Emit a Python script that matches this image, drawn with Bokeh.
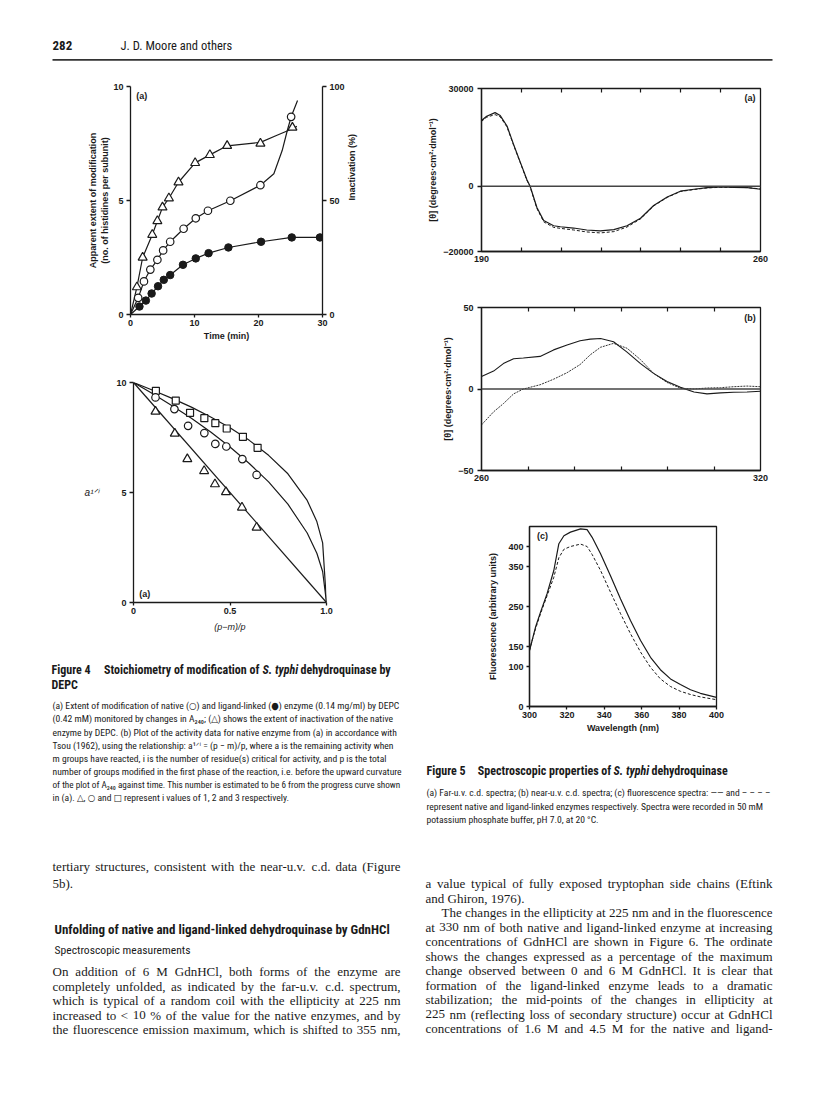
import math
from bokeh.plotting import figure
from bokeh.models import Range1d, LinearAxis, FixedTicker, Label, Span
from bokeh.layouts import column, row
from bokeh.embed import file_html
from bokeh.resources import INLINE
from bokeh.core.properties import value

SANS = "Liberation Sans"
NARROW = "'Roboto Condensed', 'DejaVu Sans Condensed', 'Liberation Sans Narrow', 'Liberation Sans'"
SERIF = "Liberation Serif"
INK = "#1a1a1a"

# ---------------- Figure 4(a): modification vs time ----------------
t_tri = [1.0, 1.9, 3.4, 4.2, 5.0, 6.0, 7.5, 10.1, 12.4, 15.1, 20.3, 25.3]
inact_tri = [12, 25, 35, 41, 47, 51, 58, 66.5, 70, 74, 75, 82]
tri_curve_t = [0, 1.0, 1.9, 3.4, 4.2, 5.0, 6.0, 7.5, 10.1, 12.4, 15.1, 20.3, 22.8, 25.3, 26.0]
tri_curve_v = [0, 12, 25, 35, 41, 47, 51, 58, 66.5, 70, 74, 75.5, 78.5, 81.5, 82.5]

t_open = [1.2, 2.1, 3.1, 4.2, 5.1, 6.2, 8.3, 10.2, 12.1, 15.6, 20.3, 25.1]
mod_open = [0.73, 1.45, 1.97, 2.40, 2.81, 3.19, 3.76, 4.22, 4.55, 4.99, 5.67, 8.67]
open_curve_t = [0, 1.2, 2.1, 3.1, 4.2, 5.1, 6.2, 8.3, 10.2, 12.1, 15.6, 20.3, 22.4, 23.7, 24.5, 25.1, 26.1]
open_curve_v = [0, 0.73, 1.45, 1.97, 2.40, 2.81, 3.19, 3.76, 4.22, 4.55, 4.99, 5.67, 6.17, 7.19, 8.07, 8.67, 9.39]

t_filled = [1.4, 2.4, 3.3, 4.3, 5.2, 6.2, 8.2, 10.2, 12.2, 15.3, 20.4, 25.2, 29.6]
mod_filled = [0.35, 0.61, 0.92, 1.24, 1.52, 1.73, 2.18, 2.46, 2.69, 2.94, 3.19, 3.38, 3.38]
filled_curve_t = [0] + t_filled
filled_curve_v = [0] + mod_filled

time_ticks = [0, 10, 20, 30]
mod_ticks = [0, 5, 10]
inact_ticks = [0, 50, 100]

# ---------------- Figure 4(b): Tsou plot ----------------
frac_sq = [0.116, 0.219, 0.293, 0.367, 0.424, 0.483, 0.567, 0.643]
a_sq = [9.62, 9.18, 8.62, 8.38, 8.15, 7.91, 7.53, 7.03]
frac_ci = [0.114, 0.212, 0.283, 0.367, 0.424, 0.481, 0.564, 0.638]
a_ci = [9.32, 8.79, 8.03, 7.70, 7.21, 7.09, 6.52, 5.80]
frac_tr = [0.114, 0.214, 0.279, 0.366, 0.422, 0.479, 0.562, 0.638]
a_tr = [8.68, 7.68, 6.52, 5.98, 5.38, 5.02, 4.32, 3.41]

line_x = [0, 1.0]
line_tr = [10, 0]
curve_x = [0, 0.1, 0.2, 0.3, 0.4, 0.5, 0.6, 0.7, 0.8, 0.9, 0.95, 0.98, 1.0]
curve_ci = [10, 9.49, 8.94, 8.37, 7.75, 7.07, 6.32, 5.48, 4.47, 3.16, 2.24, 1.41, 0]
curve_sq = [10, 9.65, 9.28, 8.88, 8.43, 7.94, 7.37, 6.69, 5.85, 4.64, 3.68, 2.71, 0]

frac_ticks = [0, 0.5, 1.0]
frac_labels = {0: "0", 0.5: "0.5", 1: "1.0"}
a_ticks = [0, 5, 10]

# ---------------- Figure 5(a): far-UV CD ----------------
far_wl = [190, 191.3, 193.4, 194.7, 196.4, 198.0, 199.7, 201.4, 202.2, 203.9, 205.6, 208.1,
          209.8, 213.1, 216.4, 219.8, 223.2, 226.5, 229.9, 233.2, 236.6, 239.9, 243.3,
          246.6, 250, 253.3, 256.7, 260]
far_native = [20200, 21500, 22600, 21700, 18500, 13000, 7500, 2000, 0, -6500, -10500, -12100,
              -12400, -12800, -13400, -13700, -13300, -12100, -9800, -5900, -3300, -1500,
              -900, -400, -200, -300, -400, -900]
far_ligand = [19900, 21200, 22000, 21300, 18200, 12800, 7300, 1800, -200, -6800, -10900, -12600,
              -12900, -13400, -14000, -14300, -13900, -12500, -10000, -6000, -3400, -1600,
              -1000, -500, -300, -300, -400, -800]
far_ticks = [190, 260]
far_minor = [200, 210, 220, 230, 240, 250]
far_yticks = [-20000, 0, 30000]

# ---------------- Figure 5(b): near-UV CD ----------------
near_wl = [260, 262.6, 264.7, 266.9, 269, 272.6, 275.5, 278.4, 281.2, 283.4, 285.6, 288.4,
           291.3, 294.2, 297.0, 299.9, 302.8, 305.7, 308.5, 311.4, 314.2, 317.1, 320]
near_native = [7.6, 11, 15.6, 18.6, 19, 20, 24, 27, 29.6, 30.6, 31, 29, 22.6, 15.6, 9.6, 4.6,
               1, -1.8, -3, -2.4, -2, -1.8, -1.4]
near_ligand = [-22, -14, -9, -3, 0, 2.6, 6, 10, 15, 21, 25.6, 28, 25, 18, 9.6, 4, 0.5, 0, 0.6,
               0.8, 1.4, 1.8, 1.4]
near_ticks = [260, 320]
near_minor = [270, 280, 290, 300, 310]
near_yticks = [-50, 0, 50]

# ---------------- Figure 5(c): fluorescence ----------------
fl_wl = [300, 301.4, 303.2, 305.9, 309.4, 313, 315.7, 318.4, 321.9, 327.3, 330.8, 333.5, 338,
         343.3, 348.7, 354, 359.4, 364.7, 370, 375.4, 380.7, 386.1, 391.4, 400]
fl_native = [140, 165, 198, 236, 282, 340, 407, 427, 436, 444, 442, 423, 382, 327, 269, 215,
             165, 123, 92, 69, 55, 42, 33, 23]
fl_ligand = [140, 165, 194, 232, 277, 323, 372, 393, 400, 406, 400, 380, 340, 286, 232, 182,
             136, 98, 69, 50, 38, 30, 24, 17]
fl_xticks = [300, 320, 340, 360, 380, 400]
fl_yticks = [0, 100, 150, 250, 350, 400]

# ---------------- Texts ----------------
header_texts = ["282", "J. D. Moore and others"]
fig4_title = ["Figure 4", "Stoichiometry of modification of", "S. typhi", "dehydroquinase by", "DEPC"]
fig4_caption = [
    "(a) Extent of modification of native (○) and ligand-linked (●) enzyme (0.14 mg/ml) by DEPC",
    "(0.42 mM) monitored by changes in A₂₄₀; (△) shows the extent of inactivation of the native",
    "enzyme by DEPC. (b) Plot of the activity data for native enzyme from (a) in accordance with",
    "Tsou (1962), using the relationship: a¹ᐟⁱ = (p − m)/p, where a is the remaining activity when",
    "m groups have reacted, i is the number of residue(s) critical for activity, and p is the total",
    "number of groups modified in the first phase of the reaction, i.e. before the upward curvature",
    "of the plot of A₂₄₀ against time. This number is estimated to be 6 from the progress curve shown",
    "in (a). △, ○ and □ represent i values of 1, 2 and 3 respectively.",
]
fig5_title = ["Figure 5", "Spectroscopic properties of", "S. typhi", "dehydroquinase"]
fig5_caption = [
    "(a) Far-u.v. c.d. spectra; (b) near-u.v. c.d. spectra; (c) fluorescence spectra: —— and – – – –",
    "represent native and ligand-linked enzymes respectively. Spectra were recorded in 50 mM",
    "potassium phosphate buffer, pH 7.0, at 20 °C.",
]
left_body_top = [
    "tertiary structures, consistent with the near-u.v. c.d. data (Figure",
    "5b).",
]
heading = "Unfolding of native and ligand-linked dehydroquinase by GdnHCl"
subheading = "Spectroscopic measurements"
left_body = [
    "On addition of 6 M GdnHCl, both forms of the enzyme are",
    "completely unfolded, as indicated by the far-u.v. c.d. spectrum,",
    "which is typical of a random coil with the ellipticity at 225 nm",
    "increased to < 10 % of the value for the native enzymes, and by",
    "the fluorescence emission maximum, which is shifted to 355 nm,",
]
right_body = [
    "a value typical of fully exposed tryptophan side chains (Eftink",
    "and Ghiron, 1976).",
    "The changes in the ellipticity at 225 nm and in the fluorescence",
    "at 330 nm of both native and ligand-linked enzyme at increasing",
    "concentrations of GdnHCl are shown in Figure 6. The ordinate",
    "shows the changes expressed as a percentage of the maximum",
    "change observed between 0 and 6 M GdnHCl. It is clear that",
    "formation of the ligand-linked enzyme leads to a dramatic",
    "stabilization; the mid-points of the changes in ellipticity at",
    "225 nm (reflecting loss of secondary structure) occur at GdnHCl",
    "concentrations of 1.6 M and 4.5 M for the native and ligand-",
]

# Times-compatible advance widths (per 1000 em) used only to justify body lines
TW = {" ": 250, "a": 444, "b": 500, "c": 444, "d": 500, "e": 444, "f": 333, "g": 500, "h": 500,
      "i": 278, "j": 278, "k": 500, "l": 278, "m": 778, "n": 500, "o": 500, "p": 500, "q": 500,
      "r": 333, "s": 389, "t": 278, "u": 500, "v": 500, "w": 722, "x": 500, "y": 500, "z": 444,
      "A": 722, "B": 667, "C": 667, "D": 722, "E": 611, "F": 556, "G": 722, "H": 722, "I": 333,
      "J": 389, "K": 722, "L": 611, "M": 889, "N": 722, "O": 722, "P": 556, "Q": 722, "R": 667,
      "S": 556, "T": 611, "U": 722, "V": 722, "W": 944, "X": 722, "Y": 722, "Z": 611,
      ",": 250, ".": 250, ";": 278, ":": 278, "(": 333, ")": 333, "-": 333, "%": 833, "<": 564,
      "/": 278}


def word_w(w, size):
    return sum(TW.get(c, 500) for c in w) * size / 1000.0


# ---------------- helpers ----------------
def plot_fig(fw, fh, bl, br, bt, bb, xr, yr, outline=False):
    p = figure(frame_width=fw, frame_height=fh, min_border_left=bl, min_border_right=br,
               min_border_top=bt, min_border_bottom=bb, x_range=xr, y_range=yr,
               x_axis_location=None, y_axis_location=None, output_backend="svg",
               toolbar_location=None, tools="")
    p.frame_align = False
    p.grid.visible = False
    p.outline_line_color = INK if outline else None
    p.outline_line_width = 1.3
    p.background_fill_color = "white"
    p.border_fill_color = "white"
    return p


def add_axis(p, side, ticks, minor=None, overrides=None, tin=0, tout=4, label="", lsize="9px",
             lstand=4, mstand=3, range_name=None, line=True, mtin=4):
    kw = {}
    if range_name:
        kw["y_range_name"] = range_name
    ax = LinearAxis(ticker=FixedTicker(ticks=ticks, minor_ticks=minor or []), **kw)
    ax.axis_line_color = INK if line else None
    ax.axis_line_width = 1.3
    ax.major_tick_line_color = INK
    ax.major_tick_line_width = 1.3
    ax.major_tick_in = tin
    ax.major_tick_out = tout
    if minor:
        ax.minor_tick_line_color = INK
        ax.minor_tick_line_width = 1.2
        ax.minor_tick_in = mtin
        ax.minor_tick_out = 0
    else:
        ax.minor_tick_line_color = None
    ax.major_label_text_font = SANS
    ax.major_label_text_font_style = "bold"
    ax.major_label_text_color = INK
    ax.major_label_text_font_size = "9px"
    ax.major_label_standoff = mstand
    if overrides:
        ax.major_label_overrides = overrides
    ax.axis_label = label
    ax.axis_label_text_font = SANS
    ax.axis_label_text_font_style = "bold"
    ax.axis_label_text_font_size = lsize
    ax.axis_label_text_color = INK
    ax.axis_label_standoff = lstand
    p.add_layout(ax, side)
    return ax


def text_fig(x0, y0, w, h):
    p = figure(width=w, height=h, x_range=Range1d(x0, x0 + w), y_range=Range1d(y0 + h, y0),
               min_border=0, x_axis_location=None, y_axis_location=None,
               output_backend="svg", toolbar_location=None, tools="")
    p.frame_align = False
    p.grid.visible = False
    p.outline_line_color = None
    p.background_fill_color = "white"
    p.border_fill_color = "white"
    return p


def put(p, xs, ys, texts, font, size, style="normal"):
    p.text(x=xs, y=ys, text=texts, text_font=value(font), text_font_size=size,
           text_font_style=style, text_color=INK, text_baseline="middle", text_align="left")


def put_justified(p, x0, x1, y, line, font, size_px):
    words = line.split(" ")
    widths = [word_w(w, size_px) for w in words]
    gap = (x1 - x0 - sum(widths)) / max(len(words) - 1, 1)
    xs, x = [], x0
    for w in widths:
        xs.append(x)
        x += w + gap
    put(p, xs, [y] * len(words), words, font, "%.1fpx" % size_px)


def lab(p, x, y, t, size="9px", style="bold"):
    p.add_layout(Label(x=x, y=y, text=t, text_font=SANS, text_font_size=size,
                       text_font_style=style, text_color=INK, text_baseline="middle"))


# ---------------- header ----------------
hdr = text_fig(0, 0, 808, 72)
put(hdr, [52], [44.5], [header_texts[0]], NARROW, "13px", "bold")
put(hdr, [120], [44.5], [header_texts[1]], NARROW, "12.5px")
hdr.line(x=[52, 772], y=[59.3, 59.3], line_color="#333333", line_width=1.8)

# ---------------- Fig 4a ----------------
f4a = plot_fig(192, 228, 130, 90, 14, 36, Range1d(0, 30), Range1d(0, 10))
f4a.extra_y_ranges = {"inact": Range1d(0, 100)}
add_axis(f4a, "left", mod_ticks, label="Apparent extent of modification\n(no. of histidines per subunit)",
         lstand=0)
axr = add_axis(f4a, "right", inact_ticks, label="Inactivation (%)", range_name="inact", lstand=4)
axr.axis_label_orientation = math.pi / 2
add_axis(f4a, "below", time_ticks, label="Time (min)", tout=3, lstand=2, mstand=2)
f4a.line(open_curve_t, open_curve_v, line_color=INK, line_width=1.2)
f4a.line(filled_curve_t, filled_curve_v, line_color=INK, line_width=1.2)
f4a.line(tri_curve_t, tri_curve_v, line_color=INK, line_width=1.2, y_range_name="inact")
f4a.scatter(t_open, mod_open, marker="circle", size=7.5, fill_color="white", line_color=INK, line_width=1.2)
f4a.scatter(t_filled, mod_filled, marker="circle", size=7.5, fill_color=INK, line_color=INK, line_width=1.0)
f4a.scatter(t_tri, inact_tri, marker="triangle", size=9, fill_color="white", line_color=INK,
            line_width=1.2, y_range_name="inact")
lab(f4a, 0.9, 9.6, "(a)")

# ---------------- Fig 4b ----------------
f4b = plot_fig(193, 220, 133, 86, 32, 38, Range1d(0, 1), Range1d(0, 10))
axl = add_axis(f4b, "left", a_ticks, label="a¹ᐟⁱ", lstand=14, lsize="10px")
axl.axis_label_orientation = "horizontal"
axl.axis_label_text_font_style = "italic"
axb = add_axis(f4b, "below", frac_ticks, overrides=frac_labels, label="(p−m)/p", tout=3, lstand=5, mstand=2)
axb.axis_label_text_font_style = "italic"
f4b.line(line_x, line_tr, line_color=INK, line_width=1.2)
f4b.line(curve_x, curve_ci, line_color=INK, line_width=1.2)
f4b.line(curve_x, curve_sq, line_color=INK, line_width=1.2)
f4b.scatter(frac_sq, a_sq, marker="square", size=7, fill_color="white", line_color=INK, line_width=1.2)
f4b.scatter(frac_ci, a_ci, marker="circle", size=7.5, fill_color="white", line_color=INK, line_width=1.2)
f4b.scatter(frac_tr, a_tr, marker="triangle", size=9, fill_color="white", line_color=INK, line_width=1.2)
lab(f4b, 0.03, 0.4, "(a)")

# ---------------- Fig 4 caption ----------------
cap4 = text_fig(0, 640, 412, 210)
put(cap4, [51], [669.5], [fig4_title[0]], NARROW, "12px", "bold")
put(cap4, [103.5], [669.5], [fig4_title[1]], NARROW, "12px", "bold")
put(cap4, [262], [669.5], [fig4_title[2]], NARROW, "12px", "bold italic")
put(cap4, [300], [669.5], [fig4_title[3]], NARROW, "12px", "bold")
put(cap4, [51], [684.5], [fig4_title[4]], NARROW, "12px", "bold")
cap4_y = [705, 718, 731.5, 744.5, 757.5, 770.5, 783.5, 796.5]
put(cap4, [52] * 6, cap4_y[:6], fig4_caption[:6], NARROW, "9.6px")
put(cap4, [52], [cap4_y[6]], [fig4_caption[6]], NARROW, "9.2px")
put(cap4, [52], [cap4_y[7]], [fig4_caption[7]], NARROW, "9.6px")

# ---------------- Fig 5a ----------------
theta_label = "[θ] (degrees·cm²·dmol⁻¹)"
f5a = plot_fig(279, 163, 69, 48, 16, 34, Range1d(190, 260), Range1d(-20000, 30000), outline=True)
add_axis(f5a, "left", far_yticks, label=theta_label, lstand=2, mstand=4)
add_axis(f5a, "below", far_ticks, minor=far_minor, tin=0, tout=0, mstand=4)
add_axis(f5a, "above", [], minor=far_minor, line=False)
f5a.add_layout(Span(location=0, dimension="width", line_color="#444444", line_width=1.4))
f5a.line(far_wl, far_ligand, line_color=INK, line_width=1.0, line_dash="3 2")
f5a.line(far_wl, far_native, line_color=INK, line_width=1.2)
lab(f5a, 256, 27000, "(a)")

# ---------------- Fig 5b ----------------
f5b = plot_fig(279, 163, 69, 48, 22, 20, Range1d(260, 320), Range1d(-50, 50), outline=True)
add_axis(f5b, "left", near_yticks, label=theta_label, lstand=2, mstand=4)
add_axis(f5b, "below", near_ticks, minor=near_minor, tin=0, tout=0, mstand=4)
add_axis(f5b, "above", [], minor=near_minor, line=False)
f5b.add_layout(Span(location=0, dimension="width", line_color="#444444", line_width=1.4))
f5b.line(near_wl, near_ligand, line_color="#333333", line_width=1.0, line_dash="2 1")
f5b.line(near_wl, near_native, line_color=INK, line_width=1.1)
lab(f5b, 316.5, 43.5, "(b)")

# ---------------- Fig 5c ----------------
f5c = plot_fig(187, 180, 117, 92, 36, 39, Range1d(300, 400), Range1d(0, 450), outline=True)
add_axis(f5c, "left", fl_yticks, label="Fluorescence (arbitrary units)", lstand=7, mstand=3, tout=3)
add_axis(f5c, "below", fl_xticks, label="Wavelength (nm)", tout=3, mstand=2, lstand=2)
f5c.line(fl_wl, fl_ligand, line_color=INK, line_width=1.0, line_dash="3 2")
f5c.line(fl_wl, fl_native, line_color=INK, line_width=1.2)
lab(f5c, 304, 427, "(c)")

# ---------------- Fig 5 caption ----------------
cap5 = text_fig(412, 745, 396, 105)
put(cap5, [426], [770], [fig5_title[0]], NARROW, "12px", "bold")
put(cap5, [477.3], [770], [fig5_title[1]], NARROW, "12px", "bold")
put(cap5, [613], [770], [fig5_title[2]], NARROW, "12px", "bold italic")
put(cap5, [651], [770], [fig5_title[3]], NARROW, "12px", "bold")
put(cap5, [426] * 3, [792, 805.5, 818.5], fig5_caption, NARROW, "9.6px")

# ---------------- body text ----------------
BS = 13.0
body = text_fig(0, 850, 808, 240)
put_justified(body, 52, 400, 866, left_body_top[0], SERIF, BS)
put(body, [52], [883], [left_body_top[1]], SERIF, "13px")
put(body, [54], [929.3], [heading], NARROW, "13px", "bold")
put(body, [54], [949], [subheading], NARROW, "11.6px")
for yy, ln in zip([971, 985.5, 1000, 1014.5, 1029], left_body):
    put_justified(body, 52, 400, yy, ln, SERIF, BS)
rb_y = [883, 897.5, 912, 926.5, 941, 955.5, 970, 984.5, 999, 1013.5, 1028]
for i, (yy, ln) in enumerate(zip(rb_y, right_body)):
    if i == 1:
        put(body, [425], [yy], [ln], SERIF, "13px")
    elif i == 2:
        put_justified(body, 441, 772, yy, ln, SERIF, BS)
    else:
        put_justified(body, 425, 772, yy, ln, SERIF, BS)

left_col = column(f4a, f4b, cap4)
right_col = column(f5a, f5b, f5c, cap5)
page = column(hdr, row(left_col, right_col), body)

open("out.html", "w").write(file_html(page, INLINE))
